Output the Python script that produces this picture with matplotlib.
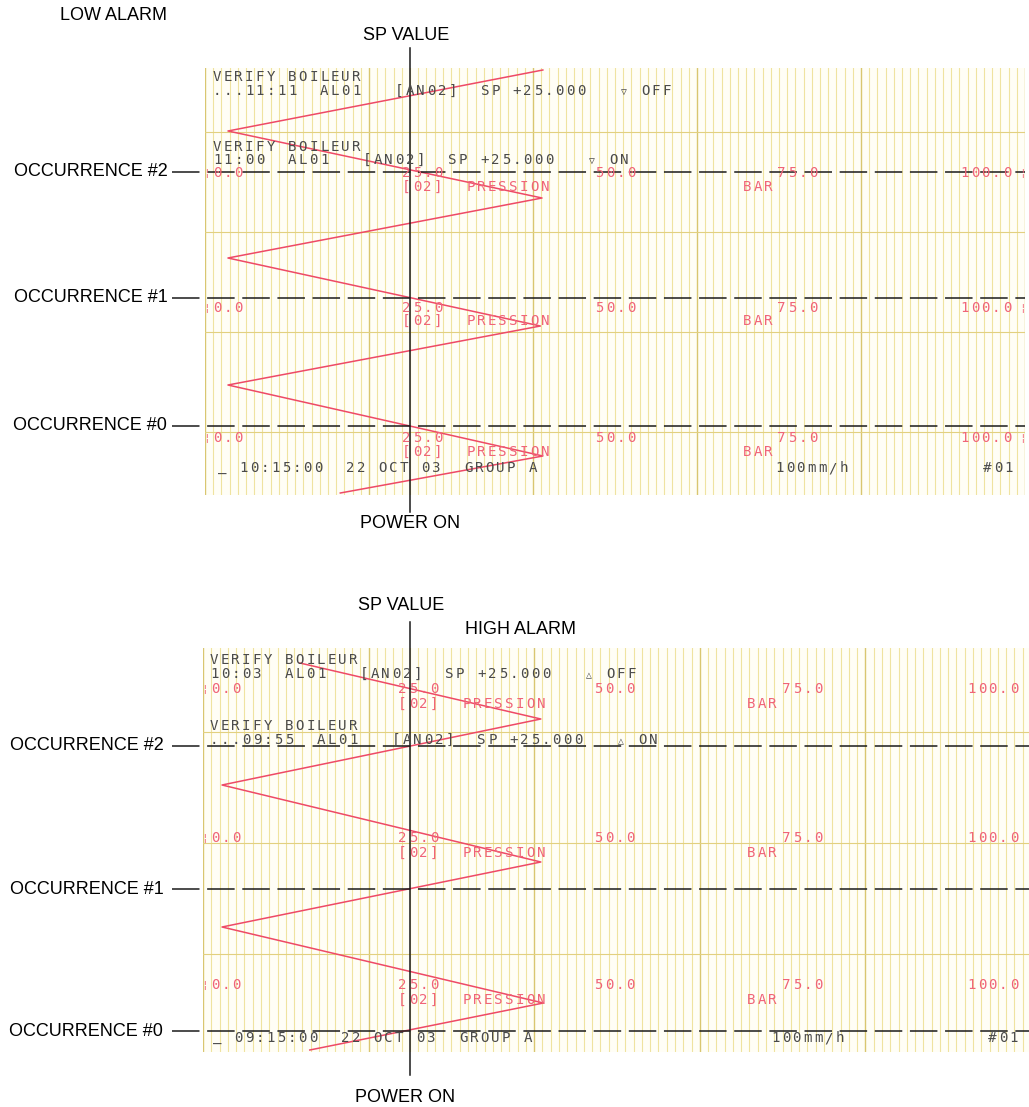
import numpy as np
import matplotlib.pyplot as plt
import matplotlib.transforms as mtransforms

W, H = 1029, 1107

# ---------------- data ----------------
sp_value = 25.0                      # set point [BAR]
scale_labels = ['0.0', '25.0', '50.0', '75.0', '100.0']
occ_names = ['OCCURRENCE #0', 'OCCURRENCE #1', 'OCCURRENCE #2']

# low alarm chart: pen value [BAR] vs chart travel (rows from top of paper)
low_trace_bar = [41.2, 2.8, 41.1, 2.8, 40.9, 2.8, 41.2, 16.5]
low_trace_row = [2, 63, 130, 190, 258, 317, 388, 425]
low_occ_row = [358, 230, 104]
low_grid_rows = [64, 164, 264, 364]

# high alarm chart
high_trace_bar = [11.7, 40.8, 2.3, 40.8, 2.3, 41.1, 12.9]
high_trace_row = [15, 71, 137, 214, 279, 355, 402]
high_occ_row = [383, 241, 98]
high_grid_rows = [84, 195, 306]

low_msgs = ['VERIFY BOILEUR',
            '...11:11  AL01   [AN02]  SP +25.000   \u25bd OFF',
            'VERIFY BOILEUR',
            '11:00  AL01   [AN02]  SP +25.000   \u25bd ON']
high_msgs = ['VERIFY BOILEUR',
             '10:03  AL01   [AN02]  SP +25.000   \u25b3 OFF',
             'VERIFY BOILEUR',
             '...09:55  AL01   [AN02]  SP +25.000   \u25b3 ON']
low_footer = ['_ 10:15:00  22 OCT 03  GROUP A', '100mm/h', '#01']
high_footer = ['_ 09:15:00  22 OCT 03  GROUP A', '100mm/h', '#01']

# ---------------- style ----------------
PITCH = 10.7
DARK = '#4a4a4a'
PINK = '#f06478'
TRACE = '#ee4a66'
mono_font = ['DejaVu Sans Mono', 'DejaVu Sans']

fig = plt.figure(figsize=(W / 100, H / 100), dpi=100)
px = mtransforms.Affine2D().scale(1 / W, -1 / H).translate(0, 1) + fig.transFigure


def mono(x, y, s, color=DARK):
    # printer text: fixed pitch, one cell per character
    for i, ch in enumerate(s):
        if ch == ' ':
            continue
        small = ch in '\u25bd\u25b3'
        fig.text(x + i * PITCH + (1 if small else 0), y + (1 if small else 0), ch,
                 transform=px, color=color, fontsize=7 if small else 10.2,
                 family=mono_font, ha='left', va='center', zorder=5)


def label(x, y, s, ha='center'):
    fig.text(x, y, s, transform=px, ha=ha, va='center', fontsize=13,
             family='Liberation Sans', color='black')


def panel(left, right, top, bottom, grid_rows):
    ax = fig.add_axes([left / W, 1 - bottom / H, (right - left) / W, (bottom - top) / H])
    ax.set_xlim(0, 100)
    ax.set_ylim(bottom - top, 0)
    ax.set_xticks(np.arange(0, 101, 20))
    ax.set_xticks(np.arange(0, 101, 1), minor=True)
    ax.set_yticks(grid_rows)
    ax.grid(which='minor', axis='x', color='#efe3a0', lw=0.8)
    ax.grid(which='major', axis='x', color='#d9c670', lw=1.0)
    ax.grid(which='major', axis='y', color='#e2d080', lw=0.8)
    ax.tick_params(which='both', length=0, labelbottom=False, labelleft=False)
    for s in ax.spines.values():
        s.set_visible(False)
    ax.set_facecolor('#fffef6')
    ax.set_axisbelow(True)
    return ax


def scale_rows(xs, y1, y2, name_x, bar_x, edge_x):
    for x, s in zip(xs, scale_labels):
        mono(x, y1, s, PINK)
    mono(name_x, y2, '[02]  PRESSION', PINK)
    mono(bar_x, y2, 'BAR', PINK)
    for ex in edge_x:
        fig.text(ex, y1, '\u00a6', transform=px, color=PINK, fontsize=8,
                 family=mono_font, ha='center', va='center')


# ---------------- LOW ALARM ----------------
ax1 = panel(205, 1025, 68, 495, low_grid_rows)
ax1.plot(low_trace_bar, low_trace_row, color=TRACE, lw=1.1, zorder=3)
for r, name in zip(low_occ_row, occ_names):
    ax1.plot([-4, 100], [r, r], color='#1a1a1a', lw=1.1, ls=(0, (18, 5)),
             clip_on=False, zorder=6)
    ax1.text(-4.6, r, name, ha='right', va='center', fontsize=13,
             family='Liberation Sans', clip_on=False)
ax1.plot([sp_value, sp_value], [-20, 444], color='#1a1a1a', lw=1.1,
         clip_on=False, zorder=6)

mono(213, 77, low_msgs[0])
mono(213, 91, low_msgs[1])
mono(213, 147, low_msgs[2])
mono(213, 160, low_msgs[3])
for y1, y2 in [(173, 187), (308, 321), (438, 452)]:
    scale_rows([213, 402, 595, 777, 960], y1, y2, 402, 743, [207, 1023])
mono(218, 468, low_footer[0])
mono(775, 468, low_footer[1])
mono(983, 468, low_footer[2])

label(60, 16, 'LOW ALARM', ha='left')
label(406, 35, 'SP VALUE')
label(410, 524, 'POWER ON')

# ---------------- HIGH ALARM ----------------
ax2 = panel(203, 1031, 648, 1052, high_grid_rows)
ax2.plot(high_trace_bar, high_trace_row, color=TRACE, lw=1.1, zorder=3)
for r, name in zip(high_occ_row, occ_names):
    ax2.plot([-3.8, 100], [r, r], color='#1a1a1a', lw=1.1, ls=(0, (18, 5)),
             clip_on=False, zorder=6)
    ax2.text(-4.8, r, name, ha='right', va='center', fontsize=13,
             family='Liberation Sans', clip_on=False)
ax2.plot([sp_value, sp_value], [-26, 427], color='#1a1a1a', lw=1.1,
         clip_on=False, zorder=6)

mono(210, 660, high_msgs[0])
mono(210, 674, high_msgs[1])
mono(210, 726, high_msgs[2])
mono(210, 740, high_msgs[3])
for y1, y2 in [(689, 704), (838, 853), (985, 1000)]:
    scale_rows([211, 398, 594, 782, 967], y1, y2, 398, 747, [204])
mono(213, 1038, high_footer[0])
mono(771, 1038, high_footer[1])
mono(988, 1038, high_footer[2])

label(401, 605, 'SP VALUE')
label(465, 630, 'HIGH ALARM', ha='left')
label(405, 1097, 'POWER ON')

fig.savefig('out.png', dpi=100)
